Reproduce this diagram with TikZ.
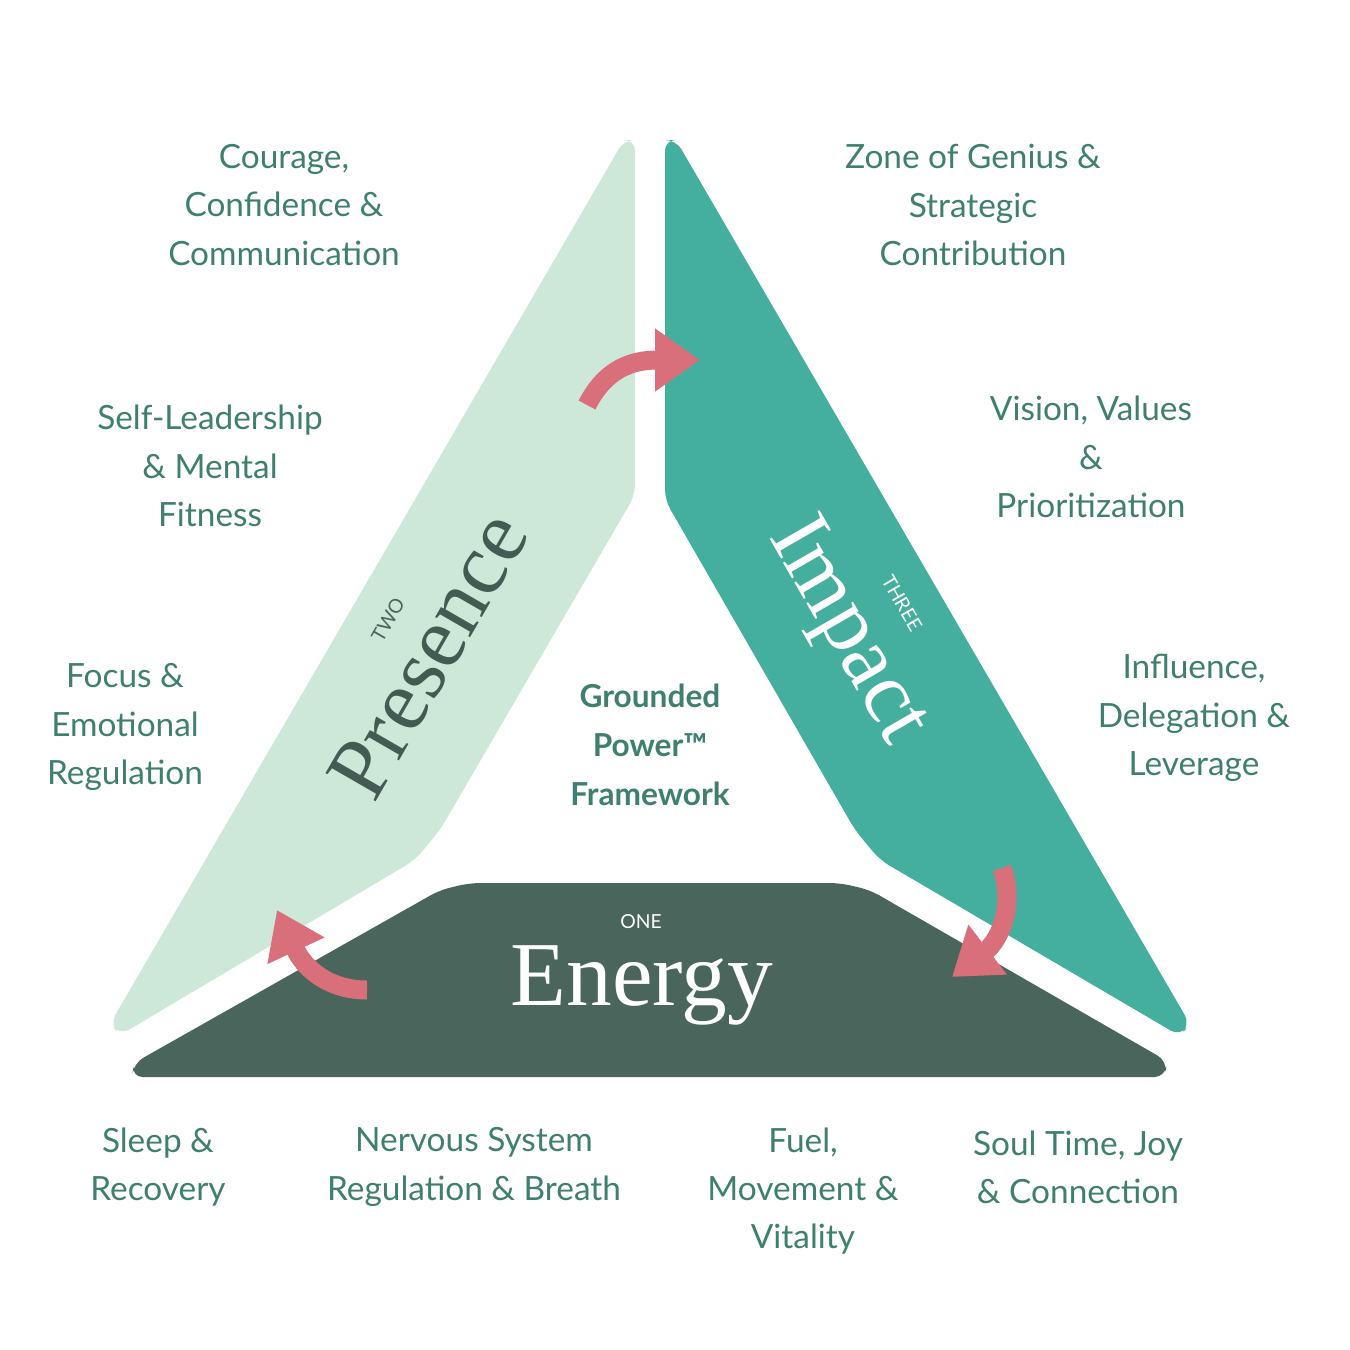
\documentclass[tikz,border=0pt]{standalone}
\usepackage{fontspec}
\setmainfont{Lato}
\newfontfamily\serifface{Liberation Serif}
\usetikzlibrary{arrows.meta}
\definecolor{mint}{HTML}{CDE8D8}
\definecolor{teal}{HTML}{45AF9F}
\definecolor{forest}{HTML}{4A655C}
\definecolor{rose}{HTML}{D86F7A}
\definecolor{ink}{HTML}{3E7F70}
\tikzset{
  label/.style={text=ink,align=center,font=\fontsize{19}{27.5}\selectfont},
  big/.style={font=\serifface\fontsize{#1}{#1}\selectfont},
  tiny/.style={font=\fontsize{11}{11}\selectfont},
  loop arrow/.style={rose,line width=0.38cm,-{Triangle[length=0.9cm,width=1.2cm]}}
}
\begin{document}
\begin{tikzpicture}[x=0.02cm,y=-0.02cm]
  \useasboundingbox (0,0) rectangle (1350,1350);
  % the three sides
  \fill[mint,rounded corners=6] (624,140) -- (635,140) -- (635,495) -- (440,830)
     -- (415,860) -- (120,1035) -- (110,1024) -- cycle;
  \fill[teal,rounded corners=6] (665,140) -- (676,140) -- (1190,1024) -- (1180,1036) -- (880,860)
     -- (855,830) -- (665,500) -- cycle;
  \fill[forest,rounded corners=6] (132,1077) -- (134,1063) -- (440,890) -- (470,883)
     -- (840,883) -- (870,890) -- (1167,1061) -- (1165,1077) -- cycle;
  % arrows
  \coordinate (a1) at (587,405);
  \coordinate (b1) at (700,360);
  \draw[loop arrow] (a1) .. controls (605,370) and (630,360) .. (b1);
  \coordinate (a2) at (1002,868);
  \coordinate (b2) at (952,977);
  \draw[loop arrow] (a2) .. controls (1015,905) and (1000,940) .. (b2);
  \coordinate (a3) at (367,990);
  \coordinate (b3) at (277,910);
  \draw[loop arrow] (a3) .. controls (330,990) and (305,970) .. (b3);
  % titles
  \node[big=50,text=forest!90!black,rotate=60] (presence) at (428,655) {Presence};
  \node[tiny,text=forest,rotate=60] (two) at (388,620) {TWO};
  \node[big=50,text=white,rotate=-60] (impact) at (846,632) {Impact};
  \node[tiny,text=white,rotate=-60] (three) at (902,603) {THREE};
  \node[big=52,text=white] (energy) at (642,985) {Energy};
  \node[tiny,text=white] (one) at (641,922) {ONE};
  \node[label,font=\bfseries\fontsize{18}{28}\selectfont] (core) at (650,745)
     {Grounded\\Power™\\Framework};
  % outer labels
  \node[label] (courage) at (284,205) {Courage,\\Confidence \&\\Communication};
  \node[label] (self) at (210,466) {Self-Leadership\\\& Mental\\Fitness};
  \node[label] (focus) at (125,727) {Focus \&\\Emotional\\Regulation};
  \node[label] (zone) at (973,205) {Zone of Genius \&\\Strategic\\Contribution};
  \node[label] (vision) at (1091,457) {Vision, Values\\\&\\Prioritization};
  \node[label] (influence) at (1194,718) {Influence,\\Delegation \&\\Leverage};
  \node[label] (sleep) at (158,1167) {Sleep \&\\Recovery};
  \node[label] (nervous) at (474,1167) {Nervous System\\Regulation \& Breath};
  \node[label] (fuel) at (803,1191) {Fuel,\\Movement \&\\Vitality};
  \node[label] (soul) at (1078,1167) {Soul Time, Joy\\\& Connection};
\end{tikzpicture}
\end{document}
